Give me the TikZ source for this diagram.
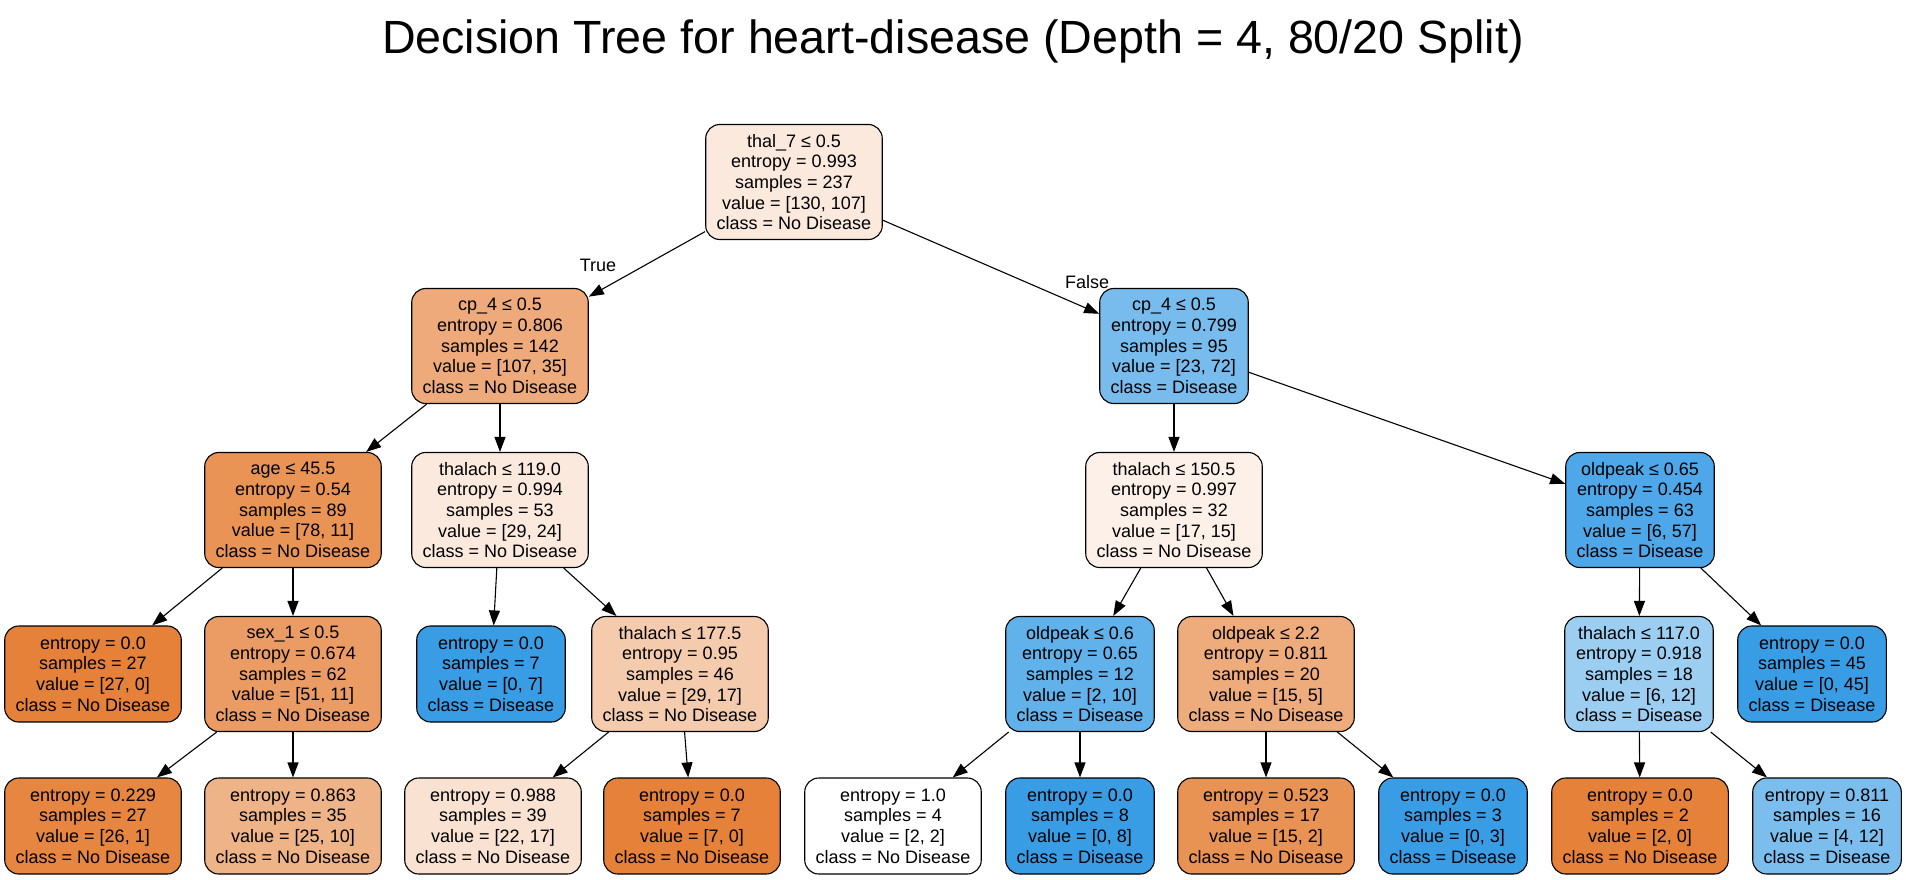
\documentclass[tikz,border=0pt]{standalone}
\usepackage{fontspec}
\setmainfont{Liberation Sans}
\usetikzlibrary{arrows.meta}
\definecolor{c0}{RGB}{250,233,220}
\definecolor{c1}{RGB}{238,170,122}
\definecolor{c2}{RGB}{120,188,237}
\definecolor{c3}{RGB}{233,147,85}
\definecolor{c4}{RGB}{251,233,221}
\definecolor{c5}{RGB}{252,240,232}
\definecolor{c6}{RGB}{78,167,232}
\definecolor{corange}{RGB}{229,129,57}
\definecolor{cblue}{RGB}{57,157,229}
\definecolor{c8}{RGB}{235,156,100}
\definecolor{c10}{RGB}{244,203,173}
\definecolor{c11}{RGB}{97,177,234}
\definecolor{c12}{RGB}{238,171,123}
\definecolor{c13}{RGB}{156,206,242}
\definecolor{c15}{RGB}{230,134,65}
\definecolor{c16}{RGB}{239,179,136}
\definecolor{c17}{RGB}{249,226,210}
\definecolor{c21}{RGB}{232,146,83}
\definecolor{c24}{RGB}{123,190,238}
\tikzset{
  tnode/.style={draw=black, line width=1.1pt, rounded corners=14pt, align=center,
    inner xsep=11pt, inner ysep=2pt, font=\fontsize{18}{20.7}\selectfont},
  split/.style={tnode, minimum height=115pt},
  leaf/.style={tnode, minimum height=96pt},
  edge/.style={draw=black, line width=1.1pt, -{Triangle[length=15pt,width=11pt]}},
  elabel/.style={anchor=base, font=\fontsize{18}{20.7}\selectfont, inner sep=0pt}
}
\begin{document}
\begin{tikzpicture}[x=1pt,y=-1pt]
\useasboundingbox[fill=white] (0,0) rectangle (1906,880);
\node[anchor=base, inner sep=0pt, font=\fontsize{46.6}{50}\selectfont] (title) at (953,54) {Decision Tree for heart-disease (Depth = 4, 80/20 Split)};
% level 0
\node[split, fill=c0] (n0) at (794,182) {thal\_7 ≤ 0.5\\entropy = 0.993\\samples = 237\\value = [130, 107]\\class = No Disease};
% level 1
\node[split, fill=c1] (n1) at (500,346) {cp\_4 ≤ 0.5\\entropy = 0.806\\samples = 142\\value = [107, 35]\\class = No Disease};
\node[split, fill=c2] (n2) at (1174,346) {cp\_4 ≤ 0.5\\entropy = 0.799\\samples = 95\\value = [23, 72]\\class = Disease};
% level 2
\node[split, fill=c3] (n3) at (293,510) {age ≤ 45.5\\entropy = 0.54\\samples = 89\\value = [78, 11]\\class = No Disease};
\node[split, fill=c4] (n4) at (500,510) {thalach ≤ 119.0\\entropy = 0.994\\samples = 53\\value = [29, 24]\\class = No Disease};
\node[split, fill=c5] (n5) at (1174,510) {thalach ≤ 150.5\\entropy = 0.997\\samples = 32\\value = [17, 15]\\class = No Disease};
\node[split, fill=c6] (n6) at (1640,510) {oldpeak ≤ 0.65\\entropy = 0.454\\samples = 63\\value = [6, 57]\\class = Disease};
% level 3
\node[leaf, fill=corange] (n7) at (93,674) {entropy = 0.0\\samples = 27\\value = [27, 0]\\class = No Disease};
\node[split, fill=c8] (n8) at (293,674) {sex\_1 ≤ 0.5\\entropy = 0.674\\samples = 62\\value = [51, 11]\\class = No Disease};
\node[leaf, fill=cblue] (n9) at (491,674) {entropy = 0.0\\samples = 7\\value = [0, 7]\\class = Disease};
\node[split, fill=c10] (n10) at (680,674) {thalach ≤ 177.5\\entropy = 0.95\\samples = 46\\value = [29, 17]\\class = No Disease};
\node[split, fill=c11] (n11) at (1080,674) {oldpeak ≤ 0.6\\entropy = 0.65\\samples = 12\\value = [2, 10]\\class = Disease};
\node[split, fill=c12] (n12) at (1266,674) {oldpeak ≤ 2.2\\entropy = 0.811\\samples = 20\\value = [15, 5]\\class = No Disease};
\node[split, fill=c13] (n13) at (1639,674) {thalach ≤ 117.0\\entropy = 0.918\\samples = 18\\value = [6, 12]\\class = Disease};
\node[leaf, fill=cblue] (n14) at (1812,674) {entropy = 0.0\\samples = 45\\value = [0, 45]\\class = Disease};
% level 4
\node[leaf, fill=c15] (n15) at (93,826) {entropy = 0.229\\samples = 27\\value = [26, 1]\\class = No Disease};
\node[leaf, fill=c16] (n16) at (293,826) {entropy = 0.863\\samples = 35\\value = [25, 10]\\class = No Disease};
\node[leaf, fill=c17] (n17) at (493,826) {entropy = 0.988\\samples = 39\\value = [22, 17]\\class = No Disease};
\node[leaf, fill=corange] (n18) at (692,826) {entropy = 0.0\\samples = 7\\value = [7, 0]\\class = No Disease};
\node[leaf, fill=white] (n19) at (893,826) {entropy = 1.0\\samples = 4\\value = [2, 2]\\class = No Disease};
\node[leaf, fill=cblue] (n20) at (1080,826) {entropy = 0.0\\samples = 8\\value = [0, 8]\\class = Disease};
\node[leaf, fill=c21] (n21) at (1266,826) {entropy = 0.523\\samples = 17\\value = [15, 2]\\class = No Disease};
\node[leaf, fill=cblue] (n22) at (1453,826) {entropy = 0.0\\samples = 3\\value = [0, 3]\\class = Disease};
\node[leaf, fill=corange] (n23) at (1640,826) {entropy = 0.0\\samples = 2\\value = [2, 0]\\class = No Disease};
\node[leaf, fill=c24] (n24) at (1827,826) {entropy = 0.811\\samples = 16\\value = [4, 12]\\class = Disease};
% edges
\foreach \a/\b in {n0/n1, n0/n2, n1/n3, n1/n4, n2/n5, n2/n6, n3/n7, n3/n8, n4/n9, n4/n10,
  n5/n11, n5/n12, n6/n13, n6/n14, n8/n15, n8/n16, n10/n17, n10/n18, n11/n19, n11/n20,
  n12/n21, n12/n22, n13/n23, n13/n24}
  \draw[edge] (\a) -- (\b);
% edge labels
\node[elabel] (ltrue) at (598,271) {True};
\node[elabel] (lfalse) at (1087,288) {False};
\end{tikzpicture}
\end{document}
